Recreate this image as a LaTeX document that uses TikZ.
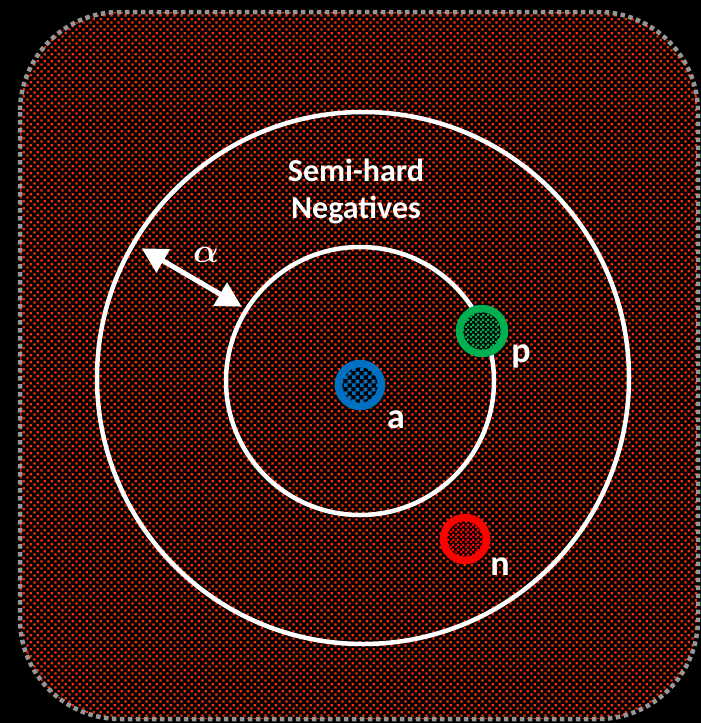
\RequirePackage{fix-cm}
\documentclass[tikz,border=0pt]{standalone}
\usepackage{fontspec}
\setmainfont{Carlito}
\usetikzlibrary{patterns,arrows.meta}

% red dots on a diagonal grid for the backdrop
\pgfdeclarepatternformonly{bgdots}{\pgfpointorigin}{\pgfqpoint{6.6pt}{6.6pt}}{\pgfqpoint{6.6pt}{6.6pt}}{%
  \pgfpathrectangle{\pgfqpoint{0.5pt}{0.5pt}}{\pgfqpoint{2.4pt}{2.4pt}}%
  \pgfpathrectangle{\pgfqpoint{3.8pt}{3.8pt}}{\pgfqpoint{2.4pt}{2.4pt}}%
  \pgfusepath{fill}}
% checkerboards for the sample points
\pgfdeclarepatternformonly{coarsechecks}{\pgfpointorigin}{\pgfqpoint{8pt}{8pt}}{\pgfqpoint{8pt}{8pt}}{%
  \pgfpathrectangle{\pgfpointorigin}{\pgfqpoint{4pt}{4pt}}%
  \pgfpathrectangle{\pgfqpoint{4pt}{4pt}}{\pgfqpoint{4pt}{4pt}}%
  \pgfusepath{fill}}
\pgfdeclarepatternformonly{finechecks}{\pgfpointorigin}{\pgfqpoint{5pt}{5pt}}{\pgfqpoint{5pt}{5pt}}{%
  \pgfpathrectangle{\pgfpointorigin}{\pgfqpoint{2.5pt}{2.5pt}}%
  \pgfpathrectangle{\pgfqpoint{2.5pt}{2.5pt}}{\pgfqpoint{2.5pt}{2.5pt}}%
  \pgfusepath{fill}}

\definecolor{dotred}{RGB}{255,45,0}
\definecolor{framegray}{RGB}{150,150,150}
\definecolor{ptblue}{RGB}{0,112,192}
\definecolor{ptgreen}{RGB}{0,176,80}
\definecolor{ptred}{RGB}{255,0,0}

\begin{document}
\begin{tikzpicture}[x=1pt,y=-1pt,
  ring/.style={circle, draw=white, line width=4.5pt, inner sep=0pt},
  point/.style={circle, inner sep=0pt, line width=7.5pt, preaction={fill=black}},
  lbl/.style={text=white, font=\fontsize{36}{40}\selectfont\bfseries, inner sep=0pt, anchor=base},
  tip/.tip={Triangle[length=25pt,width=26pt]},
]
% page and dotted panel
\fill[black] (0,0) rectangle (701,723);
\useasboundingbox (0,0) rectangle (701,723);
\fill[pattern=bgdots, pattern color=dotred, rounded corners=100pt] (20,12) rectangle (698,719);
\draw[framegray, line width=4.5pt, dash pattern=on 4.5pt off 3.5pt, rounded corners=100pt]
  (20,12) rectangle (698,719);

% margin rings
\node[ring, minimum size=532pt] (outer) at (363,378) {};
\node[ring, minimum size=268pt] (inner) at (360,381) {};

% heading
\node[text=white, font=\fontsize{32}{37}\selectfont\bfseries, align=center, inner sep=0pt]
  (title) at (356,191) {Semi-hard\\Negatives};

% margin arrow
\coordinate (mfrom) at (141.7,248.3);
\coordinate (mto) at (241.7,306.7);
\draw[white, line width=5pt, tip-tip] (mfrom) -- (mto);
\node[text=white, font=\fontsize{34}{40}\selectfont\boldmath, inner sep=0pt] (alpha) at (206,255) {$\alpha$};

% anchor, positive, negative
\node[point, draw=ptblue, pattern=coarsechecks, pattern color=ptblue, minimum size=43pt] (a) at (360,385) {};
\node[point, draw=ptgreen, pattern=finechecks, pattern color=ptgreen, minimum size=45pt] (p) at (482,331) {};
\node[point, draw=ptred, pattern=finechecks, pattern color=ptred, minimum size=43pt] (n) at (465,539) {};

\node[lbl] (la) at (396,428) {a};
\node[lbl] (lp) at (521,362) {p};
\node[lbl] (ln) at (500,575) {n};
\end{tikzpicture}
\end{document}
